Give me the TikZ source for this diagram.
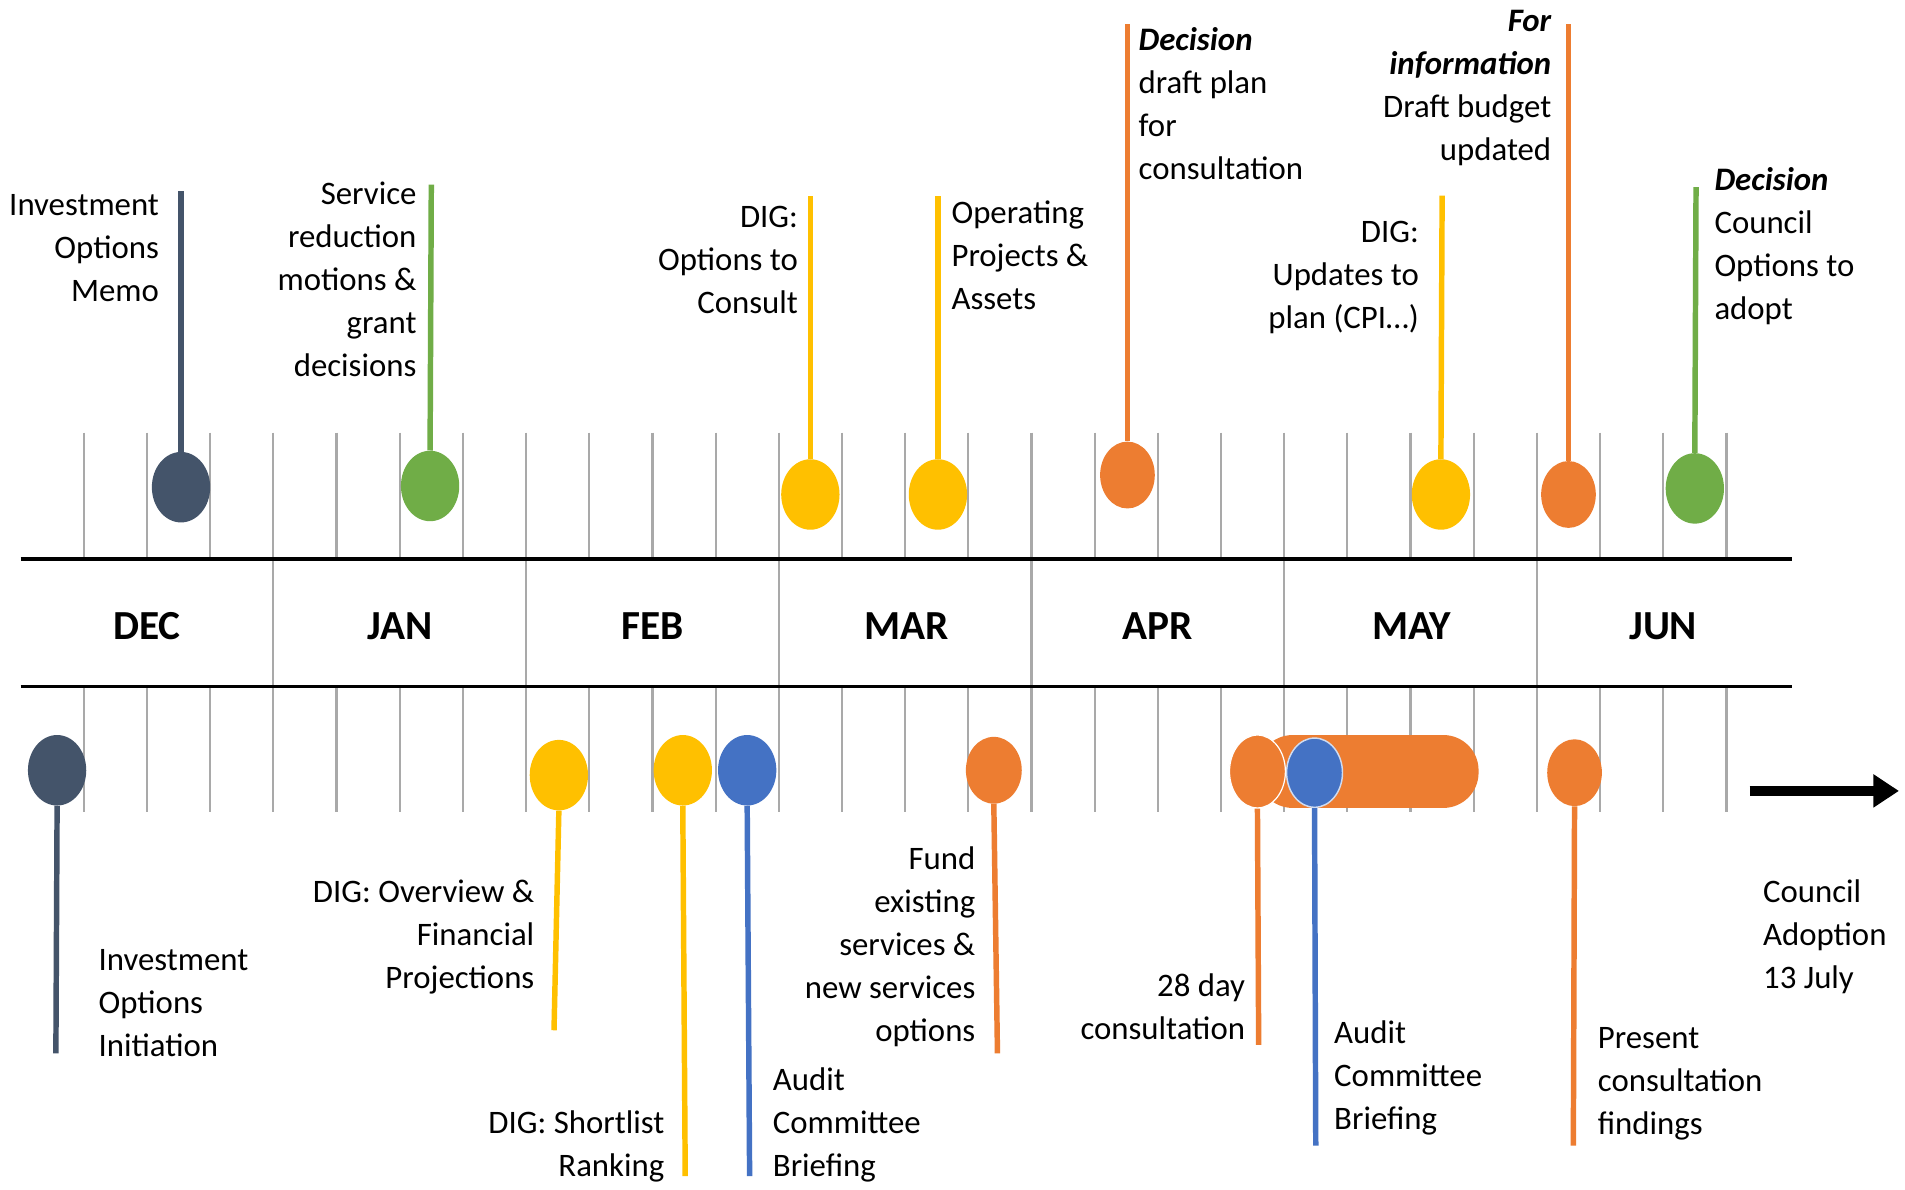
\documentclass[tikz,border=0pt]{standalone}
\usepackage{fontspec}
\setmainfont{Carlito}
\usetikzlibrary{shapes.geometric,arrows.meta}
\definecolor{cnavy}{HTML}{44546A}
\definecolor{cgreen}{HTML}{70AD47}
\definecolor{cyellow}{HTML}{FFC000}
\definecolor{corange}{HTML}{ED7D31}
\definecolor{cblue}{HTML}{4472C4}
\definecolor{ctick}{HTML}{A9A9A9}
\tikzset{
  tickline/.style={draw=ctick, line width=1.8pt},
  axisline/.style={draw=black, line width=3pt},
  stem/.style={line width=4.5pt},
  dot/.style={ellipse, minimum width=48pt, minimum height=58pt, inner sep=0pt},
  lbl/.style={font=\fontsize{27}{35.4}\selectfont, inner sep=0pt},
  mon/.style={font=\fontsize{34}{40}\selectfont\bfseries, inner sep=0pt, anchor=base},
}
\newcommand{\bi}[1]{{\bfseries\itshape #1}}
\begin{document}
\begin{tikzpicture}[x=1pt,y=-1pt]
\fill[white] (0,0) rectangle (1568,979);
\useasboundingbox (0,0) rectangle (1568,979);
% ticks
\foreach \i in {0,...,26}{
  \draw[tickline] ({69+52*\i},356) -- ({69+52*\i},460);
  \draw[tickline] ({69+52*\i},565) -- ({69+52*\i},668);
}
\foreach \i in {3,7,11,15,19,23}{
  \draw[tickline] ({69+52*\i},460) -- ({69+52*\i},565);
}
\draw[axisline] (17,460) -- (1475,460);
\draw[axisline] (17,565) -- (1475,565);
% months
\node[mon] (mdec) at (121,526) {DEC};
\node[mon] (mjan) at (329,526) {JAN};
\node[mon] (mfeb) at (537,526) {FEB};
\node[mon] (mmar) at (746,526) {MAR};
\node[mon] (mapr) at (953,526) {APR};
\node[mon] (mmay) at (1162,526) {MAY};
\node[mon] (mjun) at (1369,526) {JUN};

% ---------- top events ----------
\node[dot, fill=cnavy] (a1) at (149,401) {};
\coordinate (a1t) at (149,157);
\draw[stem, draw=cnavy] (a1.north) -- (a1t);
\node[lbl, align=right, anchor=base east] (ta1) at (131,248) {Investment\\Options\\Memo};

\node[dot, fill=cgreen] (a2) at (354,400) {};
\coordinate (a2t) at (355,152);
\draw[stem, draw=cgreen] (a2.north) -- (a2t);
\node[lbl, align=right, anchor=base east] (ta2) at (343,310) {Service\\reduction\\motions \&\\grant\\decisions};

\node[dot, fill=cyellow] (a3) at (667,407) {};
\coordinate (a3t) at (667,161);
\draw[stem, draw=cyellow] (a3.north) -- (a3t);
\node[lbl, align=right, anchor=base east] (ta3) at (657,258) {DIG:\\Options to\\Consult};

\node[dot, fill=cyellow] (a4) at (772,407) {};
\coordinate (a4t) at (772,161);
\draw[stem, draw=cyellow] (a4.north) -- (a4t);
\node[lbl, align=left, anchor=base west] (ta4) at (783,255) {Operating\\Projects \&\\Assets};

\node[dot, fill=corange, minimum width=45pt, minimum height=55pt] (a5) at (928,391) {};
\coordinate (a5t) at (928,20);
\draw[stem, draw=corange] (a5.north) -- (a5t);
\node[lbl, align=left, anchor=base west] (ta5) at (937,148) {\bi{Decision}\\draft plan\\for\\consultation};

\node[dot, fill=cyellow] (a6) at (1186,407) {};
\coordinate (a6t) at (1187,161);
\draw[stem, draw=cyellow] (a6.north) -- (a6t);
\node[lbl, align=right, anchor=base east] (ta6) at (1168,270) {DIG:\\Updates to\\plan (CPI…)};

\node[dot, fill=corange, minimum width=45pt, minimum height=55pt] (a7) at (1291,407) {};
\coordinate (a7t) at (1291,20);
\draw[stem, draw=corange] (a7.north) -- (a7t);
\node[lbl, align=right, anchor=base east] (ta7) at (1277,132) {\bi{For}\\\bi{information}\\Draft budget\\updated};

\node[dot, fill=cgreen] (a8) at (1395,402) {};
\coordinate (a8t) at (1396,154);
\draw[stem, draw=cgreen] (a8.north) -- (a8t);
\node[lbl, align=left, anchor=base west] (ta8) at (1411,263) {\bi{Decision}\\Council\\Options to\\adopt};

% ---------- bottom events ----------
\node[dot, fill=cnavy] (b1) at (47,634) {};
\coordinate (b1b) at (46,867);
\draw[stem, draw=cnavy] (b1.south) -- (b1b);
\node[lbl, align=left, anchor=base west] (tb1) at (81,870) {Investment\\Options\\Initiation};

\node[dot, fill=cyellow] (b2) at (460,638) {};
\coordinate (b2b) at (456,848);
\draw[stem, draw=cyellow] (b2.south) -- (b2b);
\node[lbl, align=right, anchor=base east] (tb2) at (440,814) {DIG: Overview \&\\Financial\\Projections};

\node[dot, fill=cyellow] (b3) at (562,634) {};
\coordinate (b3b) at (564,968);
\draw[stem, draw=cyellow] (b3.south) -- (b3b);
\node[lbl, align=right, anchor=base east] (tb3) at (547,968) {DIG: Shortlist\\Ranking};

\node[dot, fill=cblue] (b4) at (615,634) {};
\coordinate (b4b) at (617,968);
\draw[stem, draw=cblue] (b4.south) -- (b4b);
\node[lbl, align=left, anchor=base west] (tb4) at (636,968) {Audit\\Committee\\Briefing};

\node[dot, fill=corange, minimum width=46pt, minimum height=55pt] (b5) at (818,634) {};
\coordinate (b5b) at (821,867);
\draw[stem, draw=corange] (b5.south) -- (b5b);
\node[lbl, align=right, anchor=base east] (tb5) at (803,857) {Fund\\existing\\services \&\\new services\\options};

% capsule
\fill[corange, rounded corners=29pt] (1035,605) rectangle (1217,665);
\node[dot, fill=corange, draw=white, line width=1pt, minimum width=46pt, minimum height=60pt] (b6) at (1035,635) {};
\node[dot, fill=cblue, draw=white!75!cblue, line width=1.2pt, minimum width=46pt, minimum height=57pt] (b7) at (1082,636) {};
\coordinate (b6b) at (1036,860);
\draw[stem, draw=corange] (b6.south) -- (b6b);
\node[lbl, align=right, anchor=base east] (tb6) at (1025,856) {28 day\\consultation};
\coordinate (b7b) at (1083,943);
\draw[stem, draw=cblue] (b7.south) -- (b7b);
\node[lbl, align=left, anchor=base west] (tb7) at (1098,930) {Audit\\Committee\\Briefing};

\node[dot, fill=corange, minimum width=45pt, minimum height=55pt] (b8) at (1296,636) {};
\coordinate (b8b) at (1295,943);
\draw[stem, draw=corange] (b8.south) -- (b8b);
\node[lbl, align=left, anchor=base west] (tb8) at (1315,934) {Present\\consultation\\findings};

% arrow
\coordinate (arrS) at (1440,651);
\coordinate (arrE) at (1563,651);
\draw[line width=8.5pt, -{Triangle[length=21pt,width=26pt]}] (arrS) -- (arrE);
\node[lbl, align=left, anchor=base west] (tarr) at (1451,814) {Council\\Adoption\\13 July};
\end{tikzpicture}
\end{document}
